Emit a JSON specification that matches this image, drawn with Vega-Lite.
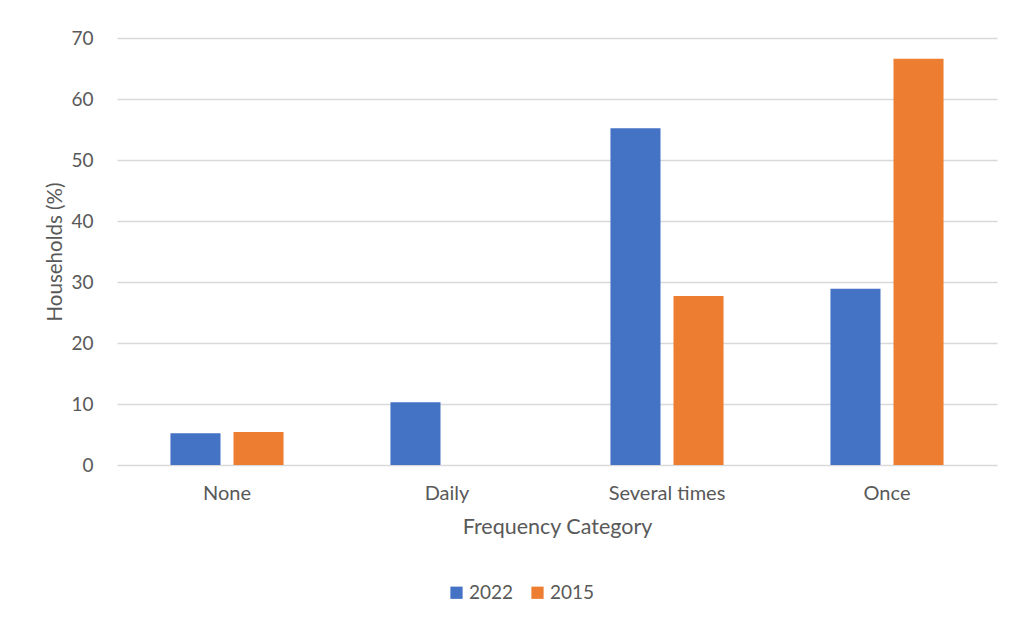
{
  "$schema": "https://vega.github.io/schema/vega-lite/v6.json",
  "autosize": {"type": "none"},
  "width": 880,
  "height": 427,
  "padding": {"left": 117, "top": 38, "right": 13, "bottom": 153},
  "background": "white",
  "config": {
    "font": "Lato",
    "view": {"stroke": null},
    "axis": {"labelColor": "#595959", "titleColor": "#595959", "labelFont": "Lato", "titleFont": "Lato", "titleFontWeight": "normal"}
  },
  "data": {
    "values": [
      {"category": "None", "year": "2022", "value": 5.2},
      {"category": "None", "year": "2015", "value": 5.4},
      {"category": "Daily", "year": "2022", "value": 10.3},
      {"category": "Several times", "year": "2022", "value": 55.2},
      {"category": "Several times", "year": "2015", "value": 27.7},
      {"category": "Once", "year": "2022", "value": 28.9},
      {"category": "Once", "year": "2015", "value": 66.6}
    ]
  },
  "mark": {"type": "bar"},
  "encoding": {
    "x": {
      "field": "category",
      "type": "nominal",
      "sort": ["None", "Daily", "Several times", "Once"],
      "scale": {"paddingInner": 0.486, "paddingOuter": 0.243},
      "axis": {"title": "Frequency Category", "labelAngle": 0, "ticks": false, "domain": false, "labelFontSize": 20, "labelPadding": 18, "titleFontSize": 21.5, "titlePadding": 13}
    },
    "xOffset": {
      "field": "year",
      "type": "nominal",
      "sort": ["2022", "2015"],
      "scale": {"paddingInner": 0.206, "paddingOuter": 0}
    },
    "y": {
      "field": "value",
      "type": "quantitative",
      "scale": {"domain": [0, 70]},
      "axis": {"title": "Households (%)", "values": [0,10,20,30,40,50,60,70], "ticks": false, "domain": false, "gridColor": "#D9D9D9", "gridWidth": 1.5, "labelFontSize": 19, "labelPadding": 24, "titleFontSize": 20.5, "titlePadding": 5}
    },
    "color": {
      "field": "year",
      "type": "nominal",
      "sort": ["2022", "2015"],
      "scale": {"domain": ["2022", "2015"], "range": ["#4472C4", "#ED7D31"]},
      "legend": {"title": null, "orient": "none", "direction": "horizontal", "legendX": 330, "legendY": 545, "symbolType": "square", "symbolSize": 150, "symbolStrokeWidth": 0, "labelFontSize": 19, "labelColor": "#595959", "labelFont": "Lato", "columnPadding": 14, "labelOffset": 3}
    }
  }
}
